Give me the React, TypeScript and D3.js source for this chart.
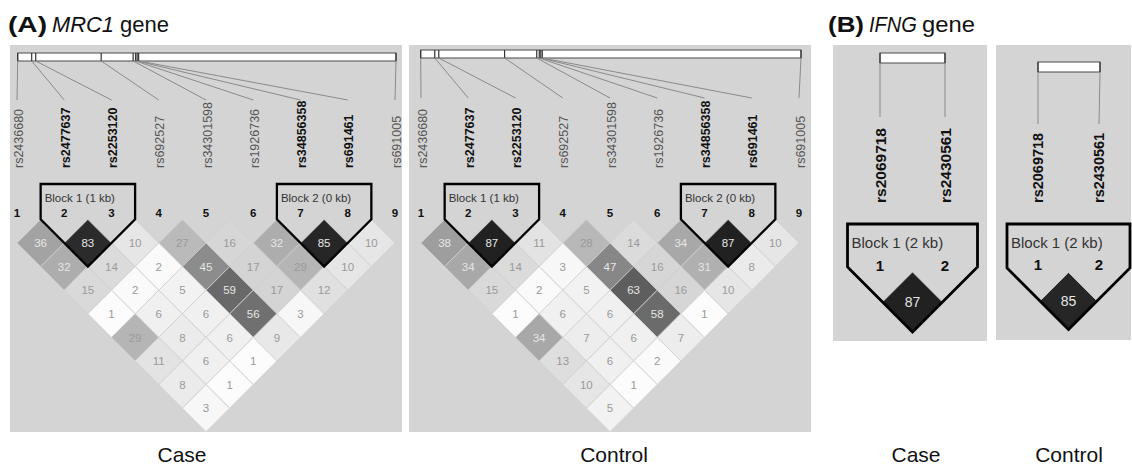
import React from "react";
import * as d3 from "d3";

// ---------- data ----------
const mrc1Markers = ["rs2436680", "rs2477637", "rs2253120", "rs692527", "rs34301598", "rs1926736", "rs34856358", "rs691461", "rs691005"];
const mrc1Bold = [false, true, true, false, false, false, true, true, false];
const mrc1GenePos = [0, 14, 18, 83.5, 115.5, 118, 119.5, 121, 378.5];
// r2 x 100, rows by marker distance (1..8)
const mrc1CaseR2 = [
  [36, 83, 10, 27, 16, 32, 85, 10],
  [32, 14, 2, 45, 17, 29, 10],
  [15, 2, 5, 59, 17, 12],
  [1, 6, 6, 56, 3],
  [29, 8, 6, 9],
  [11, 6, 1],
  [8, 1],
  [3],
];
const mrc1ControlR2 = [
  [38, 87, 11, 28, 14, 34, 87, 10],
  [34, 14, 3, 47, 16, 31, 8],
  [15, 2, 5, 63, 16, 10],
  [1, 6, 6, 58, 1],
  [34, 7, 6, 7],
  [13, 6, 2],
  [10, 1],
  [5],
];
const mrc1Blocks = [
  { name: "Block 1 (1 kb)", from: 1, to: 2 },
  { name: "Block 2 (0 kb)", from: 6, to: 7 },
];
const ifngMarkers = ["rs2069718", "rs2430561"];
const ifngBold = [true, true];
const ifngGenePos = [0, 2];
const ifngCaseR2 = [[87]];
const ifngControlR2 = [[85]];
const ifngBlocks = [{ name: "Block 1 (2 kb)", from: 0, to: 1 }];
const groupLabels = ["Case", "Control", "Case", "Control"];

const FONT = "'Liberation Sans', Arial, Helvetica, sans-serif";

type Cfg = {
  panel: [number, number, number, number];
  markerRange: [number, number];
  rect: [number, number, number, number];
  lineEnd: number;
  labelBottom: number;
  labelFont: number;
  labelDx: number;
  numY: number;
  numFont: number;
  row1Y: number;
  h: number;
  hb: number;
  blockTop: number;
  blockFont: number;
  blockTextY: number;
  valueFont: number;
  stroke: number;
};

const shade = d3.scaleLinear<string>().domain([0, 100]).range(["#ffffff", "#000000"]);

function LDPanel({ cfg, markers, bold, genePos, r2, blocks }: { cfg: Cfg; markers: string[]; bold: boolean[]; genePos: number[]; r2: number[][]; blocks: { name: string; from: number; to: number }[] }) {
  const n = markers.length;
  const mx = d3.scaleLinear().domain([0, n - 1]).range(cfg.markerRange);
  const gx = d3.scaleLinear().domain([d3.min(genePos)!, d3.max(genePos)!]).range([cfg.rect[0], cfg.rect[1]]);
  const [px, py, pw, ph] = cfg.panel;
  const [rx0, rx1, ry0, ry1] = cfg.rect;
  const h = cfg.h;
  const cells: { i: number; j: number; v: number }[] = [];
  r2.forEach((row, di) => row.forEach((v, i) => cells.push({ i, j: i + di + 1, v })));
  const cx = (i: number, j: number) => (mx(i) + mx(j)) / 2;
  const cy = (i: number, j: number) => cfg.row1Y + (j - i - 1) * h;
  const line = d3.line();
  return (
    <g>
      <rect x={px} y={py} width={pw} height={ph} fill="#d4d4d4" />
      {/* gene track */}
      <rect x={rx0} y={ry0} width={rx1 - rx0} height={ry1 - ry0} fill="#ffffff" stroke="#4a4a4a" strokeWidth={1} />
      {genePos.map((p, k) => (
        <line key={"t" + k} x1={gx(p)} x2={gx(p)} y1={ry0} y2={ry1} stroke="#333" strokeWidth={1.2} />
      ))}
      {genePos.map((p, k) => (
        <line key={"l" + k} x1={gx(p)} y1={ry1} x2={mx(k)} y2={cfg.lineEnd} stroke="#8a8a8a" strokeWidth={1} />
      ))}
      {markers.map((m, k) => (
        <text
          key={"m" + k}
          transform={`translate(${mx(k) + cfg.labelDx},${cfg.labelBottom}) rotate(-90)`}
          dy="0.36em"
          fontSize={cfg.labelFont}
          fontWeight={bold[k] ? "bold" : "normal"}
          fill={bold[k] ? "#111" : "#555"}
          fontFamily={FONT}
        >
          {m}
        </text>
      ))}
      {markers.map((m, k) => (
        <text key={"n" + k} x={mx(k)} y={cfg.numY} textAnchor="middle" fontSize={cfg.numFont} fontWeight="bold" fill="#111" fontFamily={FONT}>
          {k + 1}
        </text>
      ))}
      {cells.map((c) => {
        const x = cx(c.i, c.j);
        const y = cy(c.i, c.j);
        const pts: [number, number][] = [
          [x, y - h],
          [x + h, y],
          [x, y + h],
          [x - h, y],
        ];
        return (
          <g key={`c${c.i}-${c.j}`}>
            <path d={line(pts)! + "Z"} fill={shade(c.v)} stroke="#cfcfcf" strokeWidth={0.8} />
            <text x={x} y={y} dy="0.36em" textAnchor="middle" fontSize={cfg.valueFont} fill={c.v >= 30 ? "#e6e6e6" : "#9a9a9a"} fontFamily={FONT}>
              {c.v}
            </text>
          </g>
        );
      })}
      {blocks.map((b, k) => {
        const left = mx(b.from) - cfg.hb;
        const right = mx(b.to) + cfg.hb;
        const bx = cx(b.from, b.to);
        const by = cy(b.from, b.to) + h;
        const cornerL = by - (bx - left);
        const cornerR = by - (right - bx);
        const pts: [number, number][] = [
          [left, cfg.blockTop],
          [right, cfg.blockTop],
          [right, cornerR],
          [bx, by],
          [left, cornerL],
        ];
        return (
          <g key={"b" + k}>
            <path d={line(pts)! + "Z"} fill="none" stroke="#000" strokeWidth={cfg.stroke} strokeLinejoin="miter" />
            <text x={left + 4} y={cfg.blockTextY} fontSize={cfg.blockFont} fill="#333" fontFamily={FONT}>
              {b.name}
            </text>
          </g>
        );
      })}
    </g>
  );
}

const aCase: Cfg = {
  panel: [10, 45, 392, 387],
  markerRange: [17, 395],
  rect: [17.7, 396, 53, 61],
  lineEnd: 100,
  labelBottom: 168,
  labelFont: 12.5,
  labelDx: 1,
  numY: 217,
  numFont: 11.5,
  row1Y: 243,
  h: 23.6,
  hb: 23.6,
  blockTop: 184,
  blockFont: 11.5,
  blockTextY: 202,
  valueFont: 11.5,
  stroke: 2.3,
};
const aControl: Cfg = { ...aCase, panel: [409, 45, 402, 387], markerRange: [421, 799], rect: [420.7, 801, 50, 58], lineEnd: 98 };
const bCase: Cfg = {
  panel: [833, 45, 154, 296],
  markerRange: [880, 945],
  rect: [880, 945, 53, 63],
  lineEnd: 117,
  labelBottom: 203,
  labelFont: 15.5,
  labelDx: 0,
  numY: 271,
  numFont: 15,
  row1Y: 302,
  h: 30,
  hb: 32.5,
  blockTop: 224,
  blockFont: 15,
  blockTextY: 248,
  valueFont: 14,
  stroke: 2.8,
};
const bControl: Cfg = {
  ...bCase,
  panel: [996, 45, 135, 295],
  markerRange: [1038, 1099],
  rect: [1038, 1100, 62, 72],
  lineEnd: 124,
  labelFont: 14.5,
  numY: 270,
  row1Y: 301,
  h: 28.5,
  hb: 31,
};

const groupX = [182, 614, 916, 1069];

export default function App() {
  return (
    <svg width={1132} height={467} style={{ position: "absolute", left: 0, top: 0, background: "#fff" }} fontFamily={FONT}>
      <rect width={1132} height={467} fill="#fff" />
      <g fontSize={21.5} fill="#111">
        <text x={8} y={32} fontWeight="bold" textLength={39} lengthAdjust="spacingAndGlyphs" fontSize={22}>(A)</text>
        <text x={52} y={32} fontStyle="italic" textLength={62} lengthAdjust="spacingAndGlyphs">MRC1</text>
        <text x={120} y={32} textLength={49} lengthAdjust="spacingAndGlyphs">gene</text>
        <text x={828} y={32} fontWeight="bold" textLength={36} lengthAdjust="spacingAndGlyphs" fontSize={22}>(B)</text>
        <text x={869} y={32} fontStyle="italic" textLength={48} lengthAdjust="spacingAndGlyphs">IFNG</text>
        <text x={922} y={32} textLength={53} lengthAdjust="spacingAndGlyphs">gene</text>
      </g>
      <LDPanel cfg={aCase} markers={mrc1Markers} bold={mrc1Bold} genePos={mrc1GenePos} r2={mrc1CaseR2} blocks={mrc1Blocks} />
      <LDPanel cfg={aControl} markers={mrc1Markers} bold={mrc1Bold} genePos={mrc1GenePos} r2={mrc1ControlR2} blocks={mrc1Blocks} />
      <LDPanel cfg={bCase} markers={ifngMarkers} bold={ifngBold} genePos={ifngGenePos} r2={ifngCaseR2} blocks={ifngBlocks} />
      <LDPanel cfg={bControl} markers={ifngMarkers} bold={ifngBold} genePos={ifngGenePos} r2={ifngControlR2} blocks={ifngBlocks} />
      {groupLabels.map((t, k) => (
        <text key={k} x={groupX[k]} y={462} textAnchor="middle" fontSize={21} fill="#111">
          {t}
        </text>
      ))}
    </svg>
  );
}
